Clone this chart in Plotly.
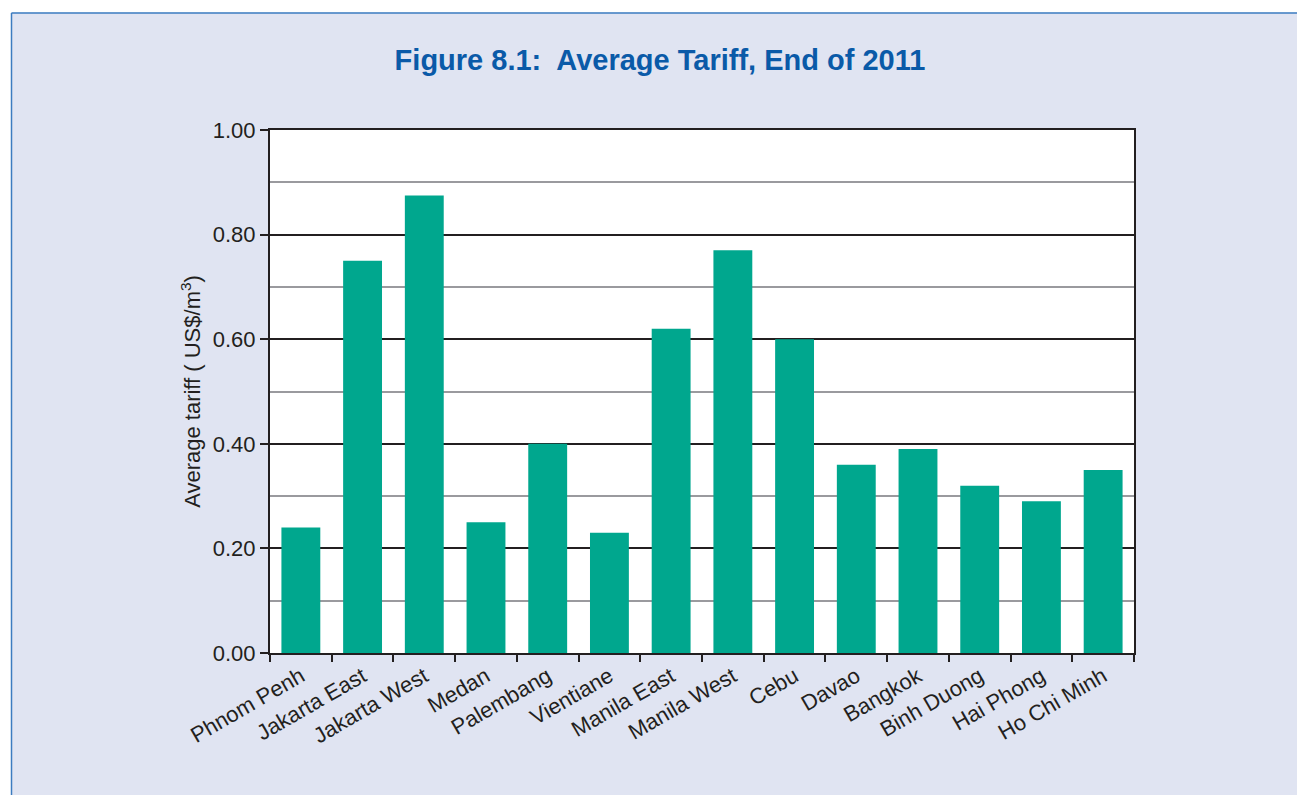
import plotly.graph_objects as go

cities = ["Phnom Penh", "Jakarta East", "Jakarta West", "Medan", "Palembang",
          "Vientiane", "Manila East", "Manila West", "Cebu", "Davao",
          "Bangkok", "Binh Duong", "Hai Phong", "Ho Chi Minh"]
tariff = [0.24, 0.75, 0.875, 0.25, 0.40, 0.23, 0.62, 0.77, 0.60, 0.36,
          0.39, 0.32, 0.29, 0.35]
y_ticks = [0.0, 0.2, 0.4, 0.6, 0.8, 1.0]
y_ticktext = ["0.00", "0.20", "0.40", "0.60", "0.80", "1.00"]

W, H = 1297, 795
L, R, T, B = 270, 1134, 130, 653
pw, ph = R - L, B - T


def px(x):
    return (x - L) / pw


def py(y):
    return (B - y) / ph


FONT = "Liberation Sans, Arial, sans-serif"
TXT = "#231f20"

fig = go.Figure()
fig.add_trace(go.Bar(x=cities, y=tariff, marker=dict(color="#00a78e", line=dict(width=0)),
                     hoverinfo="x+y"))

fig.update_layout(
    width=W, height=H,
    margin=dict(l=L, r=W - R, t=T, b=H - B, pad=0),
    paper_bgcolor="#e0e4f2",
    plot_bgcolor="#ffffff",
    bargap=0.37,
    showlegend=False,
    title=dict(text="<b>Figure 8.1:  Average Tariff, End of 2011</b>",
               x=660 / W, xanchor="center", xref="container",
               y=1 - 60 / H, yanchor="middle", yref="container",
               font=dict(family=FONT, size=29, color="#0a5aa8")),
    xaxis=dict(
        tickangle=-30, tickfont=dict(family=FONT, size=22, color=TXT),
        showline=True, linecolor=TXT, linewidth=2, mirror=True,
        ticks="outside", tickson="boundaries", ticklen=7, tickwidth=2, tickcolor=TXT,
        showgrid=False, range=[-0.5, len(cities) - 0.5],
    ),
    yaxis=dict(
        range=[0, 1.0], tickvals=y_ticks, ticktext=y_ticktext,
        tickfont=dict(family=FONT, size=22, color=TXT),
        showline=True, linecolor=TXT, linewidth=2, mirror=True,
        ticks="outside", ticklen=8, tickwidth=2, tickcolor=TXT,
        showgrid=True, gridcolor=TXT, gridwidth=1.6,
        zeroline=False,
        minor=dict(dtick=0.1, tick0=0, showgrid=True, gridcolor="#9a9a9e", gridwidth=1.6, ticks=""),
        title=dict(text="Average tariff ( US$/m<sup>3</sup>)",
                   font=dict(family=FONT, size=22, color=TXT),
                   standoff=6),
    ),
    shapes=[
        dict(type="rect", xref="paper", yref="paper", x0=px(-5), x1=px(W + 5), y0=py(12.5), y1=py(-5),
             fillcolor="#ffffff", line=dict(width=0), layer="above"),
        dict(type="rect", xref="paper", yref="paper", x0=px(-5), x1=px(11), y0=py(H + 5), y1=py(-5),
             fillcolor="#ffffff", line=dict(width=0), layer="above"),
        dict(type="line", xref="paper", yref="paper", x0=px(11.5), x1=px(W + 5), y0=py(13), y1=py(13),
             line=dict(color="#3d7cc0", width=1.5), layer="above"),
        dict(type="line", xref="paper", yref="paper", x0=px(11.5), x1=px(11.5), y0=py(13), y1=py(H + 5),
             line=dict(color="#3d7cc0", width=1.5), layer="above"),
    ],
)

fig.write_html("out.html", config={"displayModeBar": False},
               post_script="document.body.style.margin='0';document.body.style.overflow='hidden';")
